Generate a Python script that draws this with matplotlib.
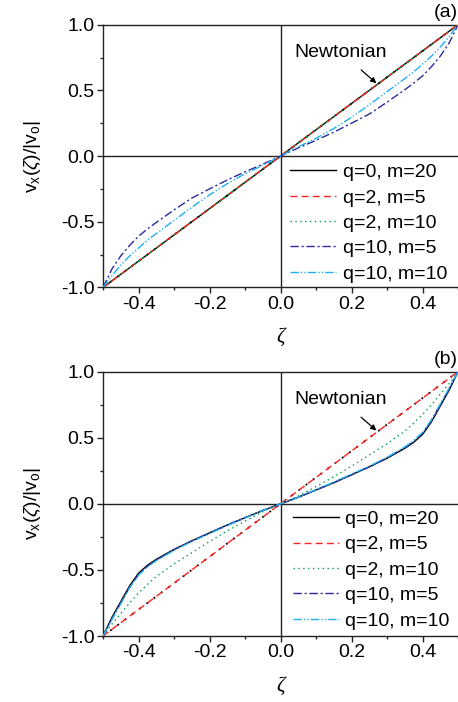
"""
Velocity profiles v_x(zeta)/|v_o| across the gap, panels (a) and (b)
"""

import matplotlib
matplotlib.use("Agg")
import matplotlib.pyplot as plt
from matplotlib.ticker import MultipleLocator

plt.rcParams['font.family'] = ['Liberation Sans', 'DejaVu Sans']
plt.rcParams['mathtext.fontset'] = 'custom'
plt.rcParams['mathtext.rm'] = 'Liberation Sans'
plt.rcParams['mathtext.it'] = 'Liberation Sans:italic'

# finer spacing near the walls where the profiles bend most
zeta = [-0.5, -0.475, -0.45, -0.425, -0.4, -0.375, -0.35, -0.3, -0.25, -0.2, -0.15, -0.1, -0.05,
        0.0,
        0.05, 0.1, 0.15, 0.2, 0.25, 0.3, 0.35, 0.375, 0.4, 0.425, 0.45, 0.475, 0.5]

labels = ["q=0, m=20", "q=2, m=5", "q=2, m=10", "q=10, m=5", "q=10, m=10"]

# Newtonian reference profile
newtonian = [-1.0, -0.95, -0.9, -0.85, -0.8, -0.75, -0.7, -0.6, -0.5, -0.4, -0.3, -0.2, -0.1,
             0.0,
             0.1, 0.2, 0.3, 0.4, 0.5, 0.6, 0.7, 0.75, 0.8, 0.85, 0.9, 0.95, 1.0]

# panel (a)
a_q0_m20 = [-1.0, -0.95, -0.9, -0.85, -0.8, -0.75, -0.7, -0.6, -0.5, -0.4, -0.3, -0.2, -0.1,
            0.0,
            0.1, 0.2, 0.3, 0.4, 0.5, 0.6, 0.7, 0.75, 0.8, 0.85, 0.9, 0.95, 1.0]
a_q2_m5 = [-1.0, -0.95, -0.9, -0.85, -0.8, -0.75, -0.7, -0.6, -0.5, -0.4, -0.3, -0.2, -0.1,
           0.0,
           0.1, 0.2, 0.3, 0.4, 0.5, 0.6, 0.7, 0.75, 0.8, 0.85, 0.9, 0.95, 1.0]
a_q2_m10 = [-1.0, -0.95, -0.9, -0.85, -0.8, -0.75, -0.7, -0.6, -0.5, -0.4, -0.3, -0.2, -0.1,
            0.0,
            0.1, 0.2, 0.3, 0.4, 0.5, 0.6, 0.7, 0.75, 0.8, 0.85, 0.9, 0.95, 1.0]
a_q10_m5 = [-1.0, -0.86, -0.76, -0.68, -0.61, -0.555, -0.505, -0.41, -0.32, -0.25, -0.182, -0.12, -0.062,
            0.0,
            0.062, 0.12, 0.182, 0.25, 0.32, 0.41, 0.505, 0.555, 0.61, 0.68, 0.76, 0.86, 1.0]
a_q10_m10 = [-1.0, -0.91, -0.83, -0.76, -0.70, -0.64, -0.59, -0.49, -0.39, -0.295, -0.21, -0.135, -0.07,
             0.0,
             0.07, 0.135, 0.21, 0.295, 0.39, 0.49, 0.59, 0.64, 0.70, 0.76, 0.83, 0.91, 1.0]

# panel (b)
b_q0_m20 = [-1.0, -0.86, -0.74, -0.62, -0.525, -0.465, -0.42, -0.345, -0.28, -0.22, -0.16, -0.105, -0.05,
            0.0,
            0.05, 0.105, 0.16, 0.22, 0.28, 0.345, 0.42, 0.465, 0.525, 0.62, 0.74, 0.86, 1.0]
b_q2_m5 = [-1.0, -0.95, -0.9, -0.85, -0.8, -0.75, -0.7, -0.6, -0.5, -0.4, -0.3, -0.2, -0.1,
           0.0,
           0.1, 0.2, 0.3, 0.4, 0.5, 0.6, 0.7, 0.75, 0.8, 0.85, 0.9, 0.95, 1.0]
b_q2_m10 = [-1.0, -0.91, -0.83, -0.75, -0.675, -0.61, -0.55, -0.455, -0.37, -0.285, -0.205, -0.13, -0.06,
            0.0,
            0.06, 0.13, 0.205, 0.285, 0.37, 0.455, 0.55, 0.61, 0.675, 0.75, 0.83, 0.91, 1.0]
b_q10_m5 = [-1.0, -0.87, -0.75, -0.63, -0.535, -0.472, -0.425, -0.348, -0.28, -0.22, -0.16, -0.105, -0.05,
            0.0,
            0.05, 0.105, 0.16, 0.22, 0.28, 0.348, 0.425, 0.472, 0.535, 0.63, 0.75, 0.87, 1.0]
b_q10_m10 = [-1.0, -0.875, -0.755, -0.635, -0.54, -0.478, -0.43, -0.352, -0.285, -0.225, -0.165, -0.108, -0.05,
             0.0,
             0.05, 0.108, 0.165, 0.225, 0.285, 0.352, 0.43, 0.478, 0.54, 0.635, 0.755, 0.875, 1.0]

styles = [
    dict(color='black', linestyle='-'),
    dict(color='#ff2020', linestyle=(0, (5, 3))),
    dict(color='#00a045', linestyle=(0, (1, 2.5))),
    dict(color='#2a2aa0', linestyle=(0, (6, 2, 1.5, 2))),
    dict(color='#1fb0f0', linestyle=(0, (6, 1.5, 1, 1.5, 1, 1.5))),
]


def draw_panel(ax, series, tag, legend_xy):
    ax.axhline(0, color='#222222', lw=1.0, zorder=1)
    ax.axvline(0, color='#222222', lw=1.0, zorder=1)
    ax.plot(zeta, newtonian, color='black', lw=1.3, linestyle=(0, (1, 4)), zorder=2)
    for ys, lab, st in zip(series, labels, styles):
        ax.plot(zeta, ys, lw=1.0, label=lab, zorder=3, **st)

    ax.set_xlim(-0.5, 0.5)
    ax.set_ylim(-1.0, 1.0)
    ax.xaxis.set_minor_locator(MultipleLocator(0.1))
    ax.yaxis.set_minor_locator(MultipleLocator(0.25))
    ax.set_xticks([-0.4, -0.2, 0.0, 0.2, 0.4])
    ax.set_xticklabels(["-0.4", "-0.2", "0.0", "0.2", "0.4"])
    ax.set_yticks([-1.0, -0.5, 0.0, 0.5, 1.0])
    ax.set_yticklabels(["-1.0", "-0.5", "0.0", "0.5", "1.0"])
    ax.tick_params(which='major', direction='out', length=4, width=1.0,
                   labelsize=14, pad=2, color='#222222')
    ax.tick_params(which='minor', direction='out', length=2.5, width=1.0,
                   color='#222222')
    for side in ('left', 'bottom', 'top'):
        ax.spines[side].set_linewidth(1.0)
        ax.spines[side].set_color('#222222')
    ax.spines['right'].set_visible(False)

    ax.set_xlabel('ζ', fontsize=15, labelpad=11,
                  family=['Liberation Serif', 'DejaVu Serif'], style='italic')
    ax.set_ylabel(r'v$_\mathrm{x}$($\zeta$)/|v$_\mathrm{o}$|', fontsize=14, labelpad=13)

    ax.text(1.0, 1.015, tag, transform=ax.transAxes, ha='right', va='bottom', fontsize=14)

    ax.annotate('Newtonian', xy=(0.27, 0.555), xytext=(0.17, 0.79),
                ha='center', va='center', fontsize=14,
                arrowprops=dict(arrowstyle='-|>', color='black', lw=0.9,
                                shrinkA=7, shrinkB=0, mutation_scale=8))

    ax.legend(loc='center left', bbox_to_anchor=legend_xy,
              bbox_transform=ax.transData, frameon=False, fontsize=14,
              handlelength=2.35, handletextpad=0.35, labelspacing=0.4,
              borderpad=0, borderaxespad=0)


fig = plt.figure(figsize=(4.58, 7.02), dpi=100)
ax_a = fig.add_axes([0.2249, 0.5905, 0.7751, 0.3743])
ax_b = fig.add_axes([0.2249, 0.0940, 0.7751, 0.3765])

draw_panel(ax_a, [a_q0_m20, a_q2_m5, a_q2_m10, a_q10_m5, a_q10_m10], '(a)', (0.027, -0.51))
draw_panel(ax_b, [b_q0_m20, b_q2_m5, b_q2_m10, b_q10_m5, b_q10_m10], '(b)', (0.035, -0.50))

fig.savefig('out.png', dpi=100)
